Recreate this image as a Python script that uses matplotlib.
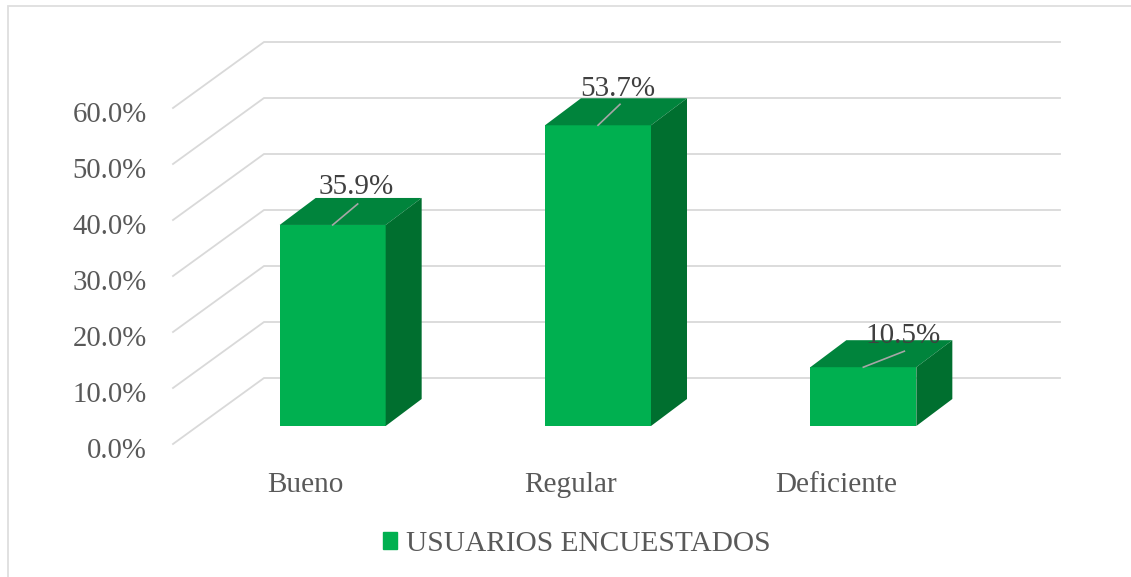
import matplotlib
matplotlib.use("Agg")
import matplotlib.pyplot as plt
from matplotlib.lines import Line2D
from matplotlib.patches import Polygon, Patch
from matplotlib.transforms import ScaledTranslation

plt.rcParams['font.family'] = ['Liberation Serif', 'DejaVu Serif']

categories = ["Bueno", "Regular", "Deficiente"]
values = [35.9, 53.7, 10.5]
value_labels = ["35.9%", "53.7%", "10.5%"]
ticks = [0, 10, 20, 30, 40, 50, 60]
tick_labels = ["0.0%", "10.0%", "20.0%", "30.0%", "40.0%", "50.0%", "60.0%"]
series_name = "USUARIOS ENCUESTADOS"

W, H = 1131, 577
PX_X = 265.33        # pixels per category
PX_Y = 5.6           # pixels per percentage point
def ox(px): return px / PX_X
def oy(px): return px / PX_Y

fig = plt.figure(figsize=(W / 100, H / 100), dpi=100)
fig.add_artist(Line2D([8 / W, 8 / W, 1], [0, 1 - 6 / H, 1 - 6 / H], transform=fig.transFigure,
                      color="#dedede", lw=1.3, solid_joinstyle="miter"))
ax = fig.add_axes([173 / W, (H - 444) / H, 796 / W, 336 / H])
ax.set_xlim(-0.5, 2.5)
ax.set_ylim(0, 60)
for s in ax.spines.values():
    s.set_visible(False)
ax.patch.set_alpha(0)

grid = "#d9d9d9"
wall_dx, wall_dy = ox(91), oy(66)
for t in ticks:
    ax.plot([-0.5, -0.5 + wall_dx, 2.5 + wall_dx],
            [t, t + wall_dy, t + wall_dy],
            color=grid, lw=1.3, clip_on=False, zorder=1, solid_joinstyle="miter")

ax.set_xticks(range(len(categories)), categories)
ax.set_yticks(ticks, tick_labels)
ax.tick_params(axis="x", length=0, pad=20, labelsize=21.1, labelcolor="#595959")
ax.tick_params(axis="y", length=0, pad=19, labelsize=20.7, labelcolor="#595959")
shift = ScaledTranslation(0, -4 / 100, fig.dpi_scale_trans)
for lab in ax.get_yticklabels():
    lab.set_transform(lab.get_transform() + shift)

front, top, side = "#00B050", "#00843C", "#006F2F"
bw = 106 / PX_X
bx, by = ox(27), oy(18)       # bar front plane relative to the axis plane
dx, dy = ox(36), oy(27)       # bar depth
xs = list(range(len(categories)))
label_off = [(24, 38), (20, 36), (40, 31)]   # pixel offset of label from front-top centre
line_off = [(25, 21), (22, 21), (41, 16)]
for i, (x, v) in enumerate(zip(xs, values)):
    x0 = x + bx - bw / 2
    x1 = x + bx + bw / 2
    y0 = by
    y1 = by + v
    ax.bar(x + bx, v, bw, bottom=by, color=front, zorder=3, clip_on=False)
    ax.add_patch(Polygon([(x0, y1), (x1, y1), (x1 + dx, y1 + dy), (x0 + dx, y1 + dy)],
                         closed=True, fc=top, ec="none", zorder=3, clip_on=False))
    ax.add_patch(Polygon([(x1, y0), (x1 + dx, y0 + dy), (x1 + dx, y1 + dy), (x1, y1)],
                         closed=True, fc=side, ec="none", zorder=3, clip_on=False))
    ax.plot([x + bx, x + bx + ox(line_off[i][0])], [y1, y1 + oy(line_off[i][1])],
            color="#a6a6a6", lw=1.2, zorder=4, clip_on=False)
    ax.text(x + bx + ox(label_off[i][0]), y1 + oy(label_off[i][1]), value_labels[i],
            ha="center", va="center", fontsize=21, color="#404040", zorder=5, clip_on=False)

leg = fig.legend(handles=[Patch(color=front, label=series_name)], loc="center",
                 bbox_to_anchor=(577 / W, (H - 544) / H), frameon=False, fontsize=21.2,
                 labelcolor="#595959", handlelength=0.48, handleheight=0.48, handletextpad=0.32,
                 borderpad=0, borderaxespad=0)

fig.savefig("out.png", dpi=100)
